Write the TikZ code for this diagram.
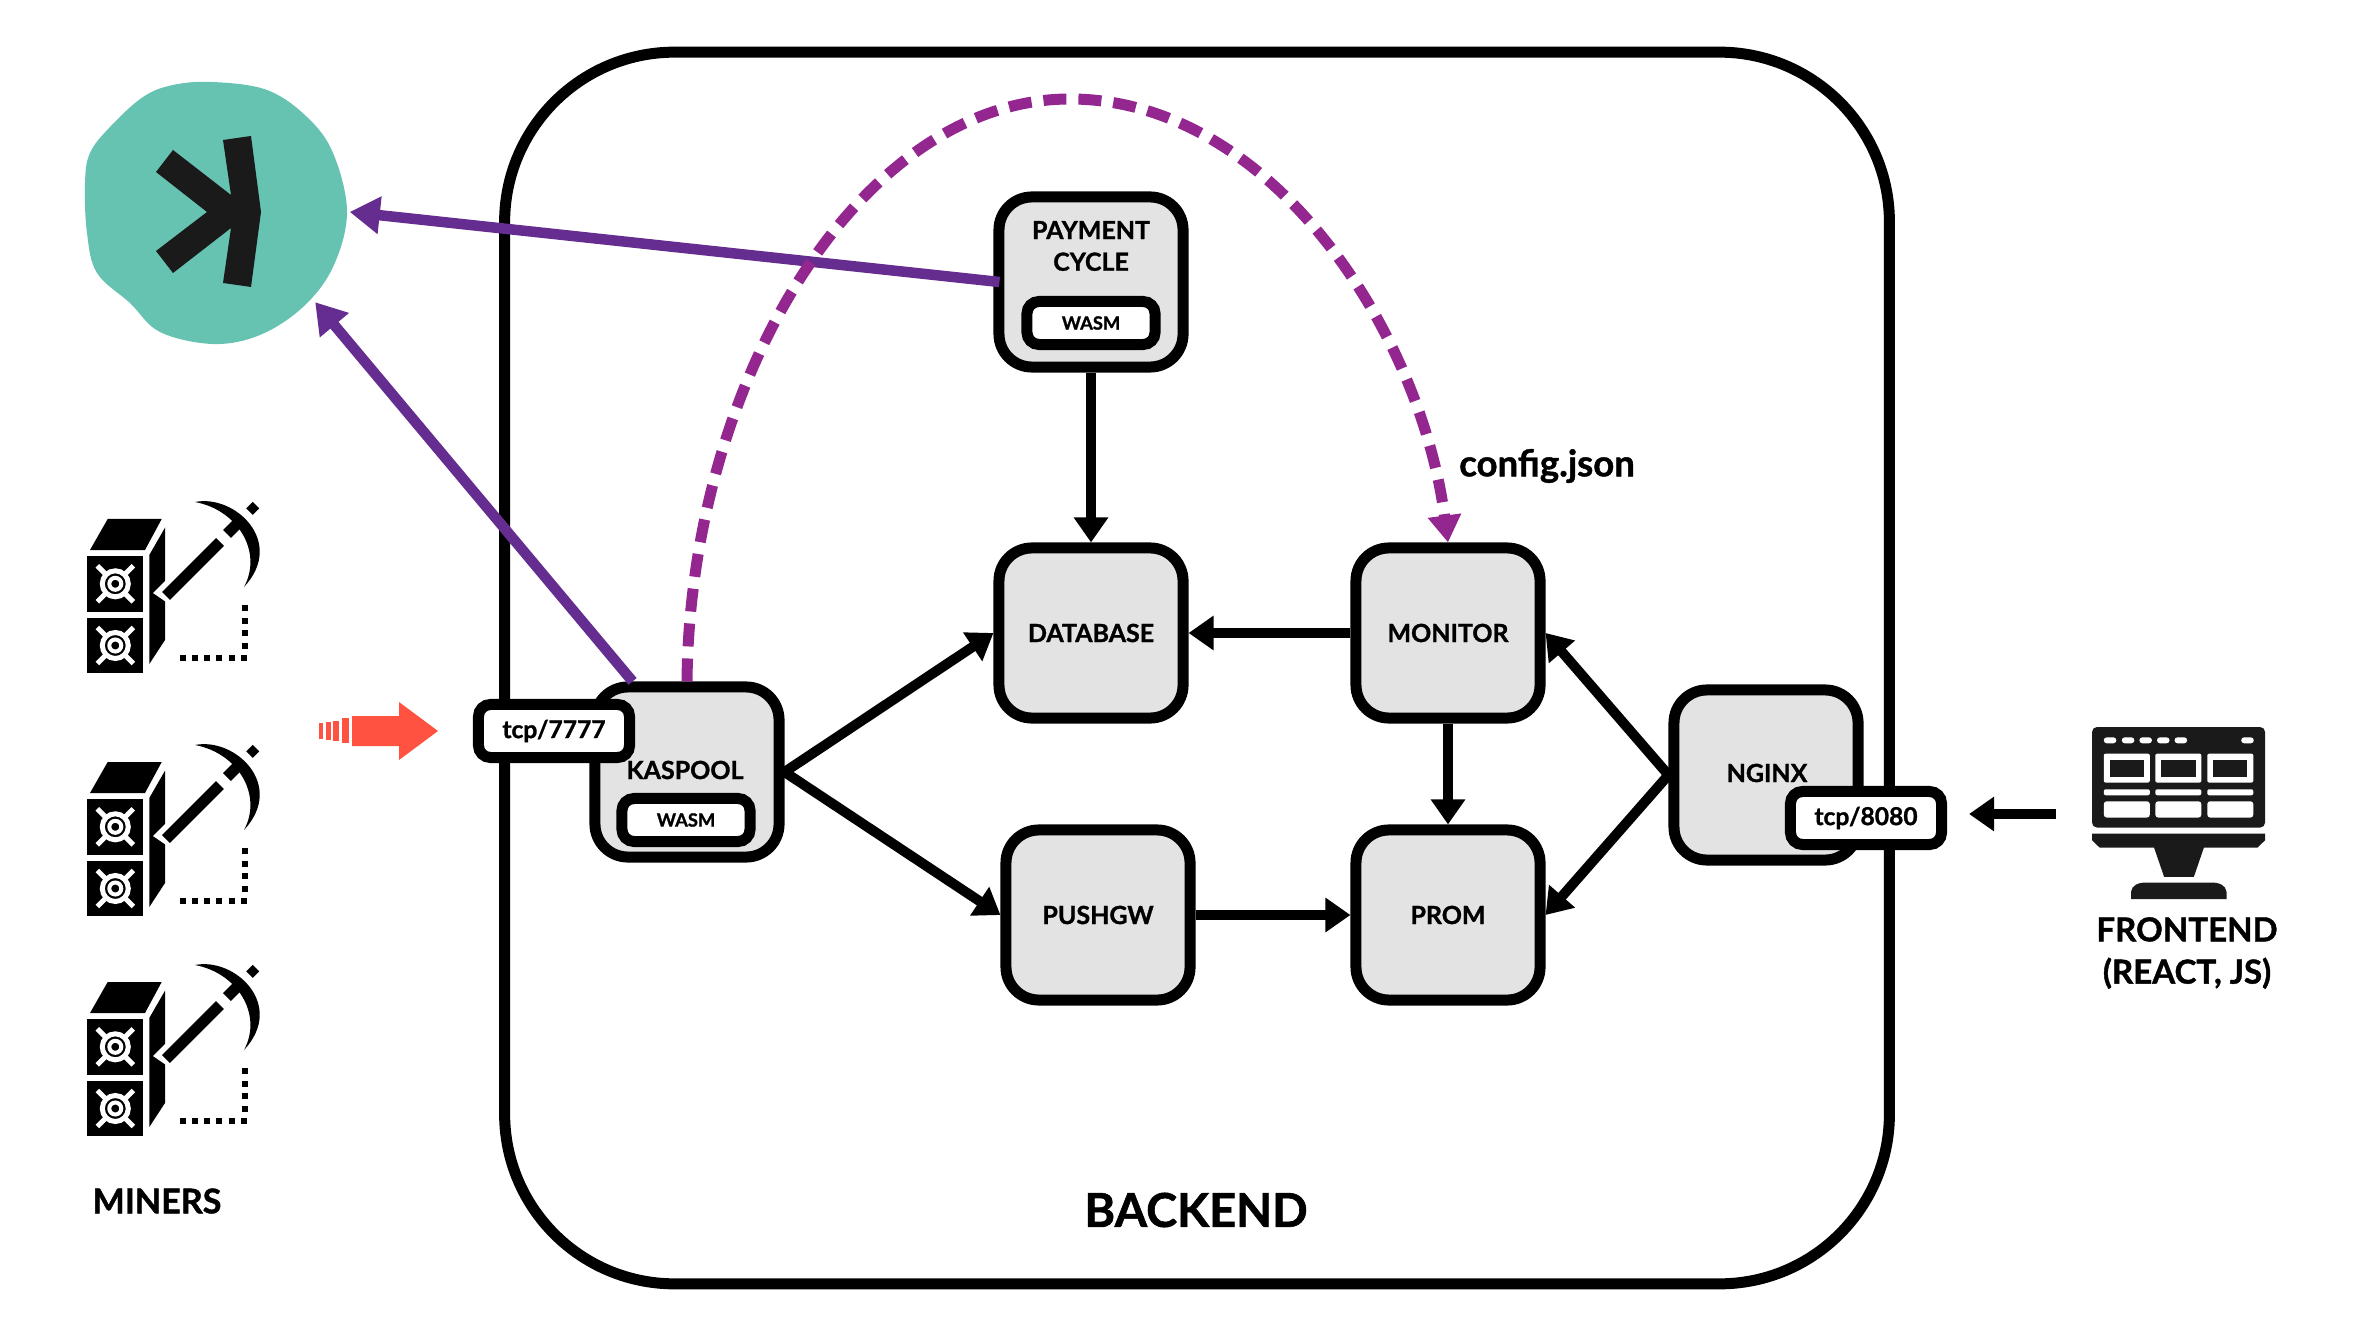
\documentclass[tikz,border=0pt]{standalone}
\usepackage{fontspec}
\setmainfont{Lato}[BoldFeatures={FakeBold=1.2}]
\usepackage{tikz}
\usetikzlibrary{arrows.meta,calc}
\definecolor{boxgray}{HTML}{E3E3E3}
\definecolor{kaspateal}{HTML}{66C2B1}
\definecolor{logoblack}{HTML}{1A1A1A}
\definecolor{rpcpurple}{HTML}{662D91}
\definecolor{cfgmagenta}{HTML}{93278F}
\definecolor{inred}{HTML}{FF5240}
\tikzset{
  >={Triangle[length=0.25cm,width=0.33cm]},
  svcbox/.style={draw=black,fill=boxgray,line width=0.11cm,rounded corners=0.33cm,
    minimum width=1.84cm,minimum height=1.70cm,inner sep=0pt,
    font=\fontsize{7.1}{8.5}\selectfont\bfseries},
  portbox/.style={draw=black,fill=white,line width=0.11cm,rounded corners=0.12cm,
    minimum width=1.51cm,minimum height=0.53cm,inner sep=0pt,
    font=\fontsize{7}{8}\selectfont\bfseries},
  wasmbox/.style={portbox,minimum width=1.28cm,minimum height=0.43cm,
    font=\fontsize{5.2}{6}\selectfont\bfseries},
  boxtext/.style={align=center,inner sep=0pt,font=\fontsize{7.1}{9}\selectfont\bfseries},
  flow/.style={->,line width=0.1cm},
  rpc/.style={-{Triangle[length=0.3cm,width=0.36cm]},draw=rpcpurple,line width=0.105cm},
  cfg/.style={-{Triangle[length=0.27cm,width=0.32cm]},draw=cfgmagenta,line width=0.11cm,
    dash pattern=on 0.23cm off 0.12cm},
  pics/miner/.style={code={
    % server stack
    \fill (47.7,39) -- (101.7,39) -- (85,70) -- (30,70) -- cycle;
    \fill (105,47.7) -- (105,160) -- (89.3,184) -- (89.3,75) -- cycle;
    \foreach \fy in {76,137.7}{
      \fill (27.3,\fy) rectangle (83.3,\fy+55.7);
      \begin{scope}[shift={(55.3,\fy+27.8)},draw=white,line width=0.04cm]
        \draw[line width=0.05cm] (0,0) circle (13);
        \draw (0,0) circle (6);
        \foreach \sx/\sy in {1/1,1/-1,-1/1,-1/-1}
          \draw[line width=0.05cm] (\sx*9,\sy*9) -- (\sx*18,\sy*18);
      \end{scope}
    }
    % pickaxe
    \fill[white] (93,113) -- (108,98) -- (112,126) -- cycle;
    \draw[line width=0.11cm] (106,116) -- (160,62);
    \draw[line width=0.11cm] (167,54) -- (180,41);
    \fill (135,22) .. controls (175,14) and (226,62) .. (184,107)
      .. controls (203,72) and (178,30) .. cycle;
    \fill (192.7,21.8) -- (199.2,28.3) -- (192.7,34.8) -- (186.2,28.3) -- cycle;
    % dotted corner
    \foreach \px in {123,135,147,159,172,184}
      \fill (\px-3,175) rectangle (\px+3,181);
    \foreach \py in {128,141,153,166}
      \fill (182,\py-3) rectangle (188,\py+3);
  }},
}
\begin{document}
\begin{tikzpicture}[x=0.01cm,y=-0.01cm]
  \useasboundingbox (0,0) rectangle (2380,1340);

  % backend frame
  \node[draw=black,line width=0.11cm,rounded corners=1.7cm,minimum width=13.84cm,
    minimum height=12.31cm] (backend) at (1197,668) {};
  \node[font=\fontsize{13.3}{15}\selectfont\bfseries] (backendlabel) at (1196,1210) {BACKEND};

  % kaspa logo
  \fill[kaspateal] plot[smooth cycle,tension=0.6] coordinates {
    (213,82) (267,90) (307,117) (333,153) (347,212) (333,267) (303,307) (260,335)
    (213,344) (160,332) (130,303) (97,273) (87,233) (85,183) (90,153) (110,127)
    (143,97) (173,85)};
  \fill[logoblack] (223,140) -- (251,136) -- (261,212) -- (251,287) -- (223,283)
    -- (231,228) -- (173,273) -- (156,251) -- (207,212) -- (156,172) -- (173,150)
    -- (231,195) -- cycle;
  \node[circle,minimum size=2.68cm,inner sep=0pt] (kaspa) at (215,212) {};

  % miners
  \foreach \dy in {0,243,463}
    \pic at (60,480+\dy) {miner};
  \node[font=\fontsize{9.7}{11}\selectfont\bfseries] (miners) at (157,1201) {MINERS};

  % inbound arrow
  \fill[inred] (352,716) -- (399,716) -- (399,702) -- (438,731) -- (399,760) -- (399,746)
    -- (352,746) -- cycle;
  \fill[inred] (342,718) rectangle (349,743);
  \fill[inred] (333,721) rectangle (339,741);
  \fill[inred] (326,722) rectangle (331,740);
  \fill[inred] (319,723) rectangle (323,739);

  % services
  \node[svcbox] (payment) at (1091,282) {};
  \node[svcbox] (database) at (1091,633) {DATABASE};
  \node[svcbox] (monitor) at (1448,633) {MONITOR};
  \node[svcbox] (prom) at (1448,915) {PROM};
  \node[svcbox] (pushgw) at (1098,915) {PUSHGW};
  \node[svcbox] (nginx) at (1766,775) {};
  \node[svcbox] (kaspool) at (687,772) {};

  \node[boxtext] (paymentlabel) at (1091,246) {PAYMENT\\CYCLE};
  \node[boxtext] (kaspoollabel) at (685,770) {KASPOOL};
  \node[boxtext] (nginxlabel) at (1767,773) {NGINX};
  \node[wasmbox] (paymentwasm) at (1091,323) {WASM};
  \node[wasmbox] (kaspoolwasm) at (686,820) {WASM};

  % flows
  \draw[flow] (payment.south) -- (database.north);
  \draw[flow] (monitor.west) -- (database.east);
  \draw[flow] (monitor.south) -- (prom.north);
  \draw[flow] (pushgw.east) -- (prom.west);
  \draw[flow] (kaspool.east) -- (database.west);
  \draw[flow] (kaspool.east) -- (pushgw.west);
  \draw[flow] (nginx.west) -- (monitor.east);
  \draw[flow] (nginx.west) -- (prom.east);

  \draw[rpc] ([xshift=0.06cm]payment.west) -- (kaspa.east);
  \draw[rpc] (kaspool.121) -- (kaspa.-42);
  \draw[cfg] (kaspool.north) .. controls (690,380) and (860,99) .. (1070,99)
    .. controls (1270,99) and (1420,330) .. (monitor.north);
  \node[font=\fontsize{10.4}{12}\selectfont\bfseries] (configlabel) at (1547,466) {config.json};

  % ports
  \node[portbox] (tcp7777) at (554,731) {tcp/7777};
  \node[portbox] (tcp8080) at (1866,818) {tcp/8080};

  % frontend
  \begin{scope}[shift={(2092,727)},xscale=0.419,yscale=0.333]
    \fill[logoblack,rounded corners=0.05cm] (0,0) rectangle (413,302);
    \fill[logoblack] (0,320) -- (413,320) -- (413,340) -- (395,362) -- (267,362)
      -- (243,450) -- (172,450) -- (148,362) -- (18,362) -- (0,340) -- cycle;
    \fill[logoblack] (93,517) -- (93,495) .. controls (95,475) and (110,467) .. (130,467)
      -- (284,467) .. controls (304,467) and (319,475) .. (321,495) -- (321,517) -- cycle;
    \foreach \dx in {28,71,113,155,197,356}
      \fill[white,rounded corners=0.03cm] (\dx,31) rectangle (\dx+30,49);
    \foreach \dx in {28,151,275}{
      \fill[white,rounded corners=0.02cm] (\dx,80) rectangle (\dx+110,167);
      \fill[logoblack] (\dx+14,98) rectangle (\dx+96,149);
      \fill[white,rounded corners=0.02cm] (\dx,187) rectangle (\dx+110,205);
      \fill[white,rounded corners=0.03cm] (\dx,223) rectangle (\dx+110,272);
    }
  \end{scope}
  \coordinate (frontout) at (2056,814);
  \draw[flow,shorten >=0.22cm] (frontout) -- (tcp8080.east |- frontout);
  \node[align=center,inner sep=0pt,font=\fontsize{9.4}{12}\selectfont\bfseries] (frontend)
    at (2187,953) {FRONTEND\\(REACT, JS)};
\end{tikzpicture}
\end{document}
